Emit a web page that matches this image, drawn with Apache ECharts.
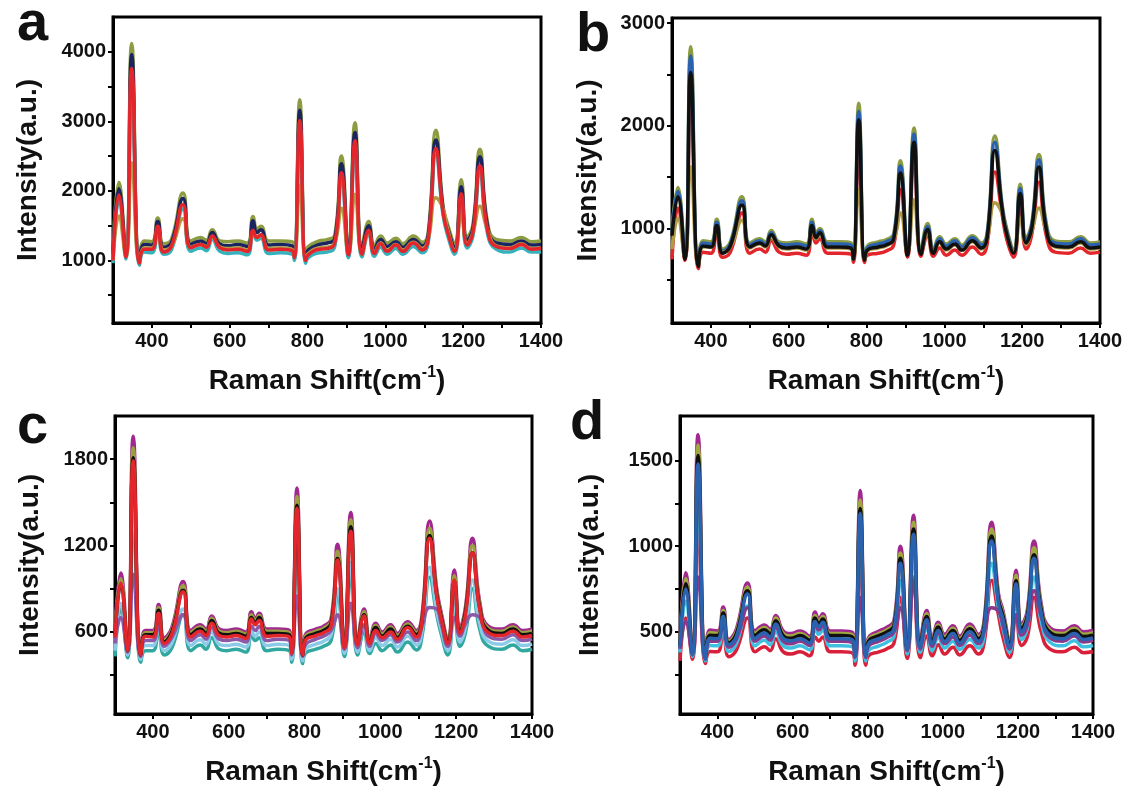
<!DOCTYPE html>
<html>
<head>
<meta charset="utf-8">
<script src="https://cdn.jsdelivr.net/npm/echarts@6/dist/echarts.min.js"></script>
<style>
html,body{margin:0;padding:0;background:#fff;}
#chart{width:1127px;height:787px;}
</style>
</head>
<body>
<div id="chart"></div>
<script>
// Raman shift grid (cm-1)
const X = [300,315,333,348,368,380,400,415,430,450,480,500,525,540,555,575,595,620,645,660,670,680,700,730,760,766,780,795,802,830,850,870,887,905,922,940,957,972,988,1005,1027,1045,1072,1095,1110,1130,1148,1160,1178,1195,1210,1225,1243,1262,1285,1320,1350,1375,1400];

const X_LABELS = [400,600,800,1000,1200,1400];
const X_TICKS = [400,500,600,700,800,900,1000,1100,1200,1300,1400];

// Panel a
const A_top   = [1150,2120,1100,4120,1050,1280,1270,1610,1240,1300,1970,1280,1330,1290,1440,1280,1270,1280,1250,1630,1450,1490,1280,1280,1270,1150,3310,1100,1200,1280,1300,1360,2500,1180,2980,1200,1560,1210,1350,1250,1320,1240,1350,1260,1400,2870,1790,1520,1240,2160,1340,1510,2600,1560,1300,1280,1330,1270,1280];
const A_black = [1090,2030,1070,3960,1010,1230,1220,1560,1190,1250,1890,1230,1280,1240,1400,1230,1210,1230,1200,1570,1400,1440,1220,1230,1210,1100,3160,1050,1150,1230,1250,1310,2390,1130,2840,1150,1500,1160,1300,1200,1270,1190,1300,1210,1350,2730,1750,1470,1190,2060,1290,1460,2490,1510,1250,1230,1280,1220,1230];
const A_cyan  = [960,1860,1020,3620,930,1120,1110,1440,1090,1150,1740,1130,1180,1140,1300,1130,1100,1110,1080,1390,1290,1320,1100,1110,1090,1000,2920,960,1040,1110,1120,1200,2160,1040,2610,1050,1380,1060,1190,1090,1170,1090,1200,1110,1250,2510,1660,1360,1090,1860,1180,1350,2260,1400,1160,1120,1180,1120,1120];
const A_red   = [1000,1940,1050,3760,960,1160,1160,1490,1120,1200,1800,1180,1230,1190,1350,1180,1150,1160,1130,1430,1330,1370,1150,1160,1140,1040,3010,1000,1080,1160,1170,1250,2260,1080,2720,1090,1430,1100,1240,1130,1220,1130,1250,1150,1300,2610,1700,1410,1130,1960,1220,1400,2360,1450,1200,1170,1230,1160,1170];
const A_low   = [1000,1640,1060,2400,990,1180,1180,1450,1150,1200,1600,1190,1230,1200,1330,1190,1170,1180,1150,1400,1330,1360,1170,1180,1160,1060,2080,1020,1100,1180,1190,1260,1750,1100,1950,1110,1400,1120,1250,1150,1230,1150,1260,1170,1300,1900,1750,1450,1150,1650,1240,1400,1780,1450,1210,1180,1240,1170,1180];

// Panel b
const B_top   = [1000,1400,720,2770,650,880,870,1090,800,870,1310,860,900,870,980,870,860,870,850,1090,960,1000,870,870,860,730,2220,720,830,870,890,950,1660,780,1980,790,1050,800,920,850,900,840,930,860,960,1900,1250,1000,800,1430,910,1060,1720,1050,880,870,920,860,870];
const B_blue  = [970,1360,710,2680,640,860,850,1060,780,850,1270,840,880,850,960,850,840,850,830,1060,940,980,850,850,840,715,2140,705,810,850,870,930,1610,760,1920,770,1020,780,900,830,880,820,910,840,940,1840,1220,980,780,1390,890,1040,1670,1020,860,850,900,840,850];
const B_black = [930,1310,700,2520,630,830,820,1030,760,830,1230,820,860,830,940,830,810,820,800,1030,910,960,820,820,810,700,2060,690,790,820,840,900,1540,740,1840,750,990,760,870,800,850,790,880,810,910,1760,1200,950,760,1340,860,1010,1600,990,830,820,870,810,820];
const B_red   = [700,1200,690,2350,610,770,760,970,720,770,1150,760,800,770,880,770,750,760,740,970,860,900,760,760,750,670,1750,670,740,760,780,840,1380,720,1700,730,930,730,810,740,790,740,820,750,850,1550,1150,900,720,1230,800,950,1450,930,770,760,810,760,770];
const B_low   = [800,1100,720,1600,640,820,820,1000,770,820,1080,810,850,820,920,820,800,810,790,990,900,940,810,810,800,700,1380,690,780,810,830,890,1150,760,1280,770,960,770,860,790,840,790,870,800,900,1250,1150,950,770,1100,850,980,1200,980,820,810,860,800,810];

// Panel c
const C_top   = [620,1010,490,1960,460,610,610,790,560,630,950,610,650,620,710,620,610,620,600,740,690,730,620,620,610,480,1600,460,580,620,640,690,1210,520,1430,540,760,550,660,600,650,590,670,610,720,1370,910,740,550,1030,630,780,1250,810,640,620,650,610,620];
const C_olive = [600,970,480,1880,450,595,595,770,545,615,920,595,635,605,695,605,595,605,585,720,675,715,605,605,595,470,1540,450,565,605,625,675,1160,510,1380,530,740,540,645,585,635,575,655,595,705,1320,890,725,540,990,615,765,1200,790,625,605,635,595,605];
const C_black = [580,930,470,1810,440,580,580,750,530,600,890,580,620,590,680,590,580,590,570,700,660,700,590,590,580,460,1480,440,550,590,610,660,1110,500,1330,520,720,530,630,570,620,560,640,580,690,1270,870,710,530,950,600,750,1150,770,610,590,620,580,590];
const C_low   = [520,700,460,1000,430,540,540,650,500,560,720,540,580,550,630,550,540,550,530,640,610,640,540,550,540,440,850,430,510,550,570,610,720,480,800,490,650,500,590,540,580,530,600,540,640,770,760,660,500,700,570,660,720,700,570,550,580,540,550];
const C_lblue = [470,800,440,1500,410,505,505,640,470,525,760,505,545,515,600,515,505,515,495,610,570,600,505,515,505,410,1200,400,480,515,535,580,900,450,1080,460,640,470,560,505,550,495,570,510,610,1050,760,620,470,800,530,640,960,660,535,515,545,505,515];
const C_teal  = [430,760,420,1400,390,470,470,600,440,490,720,470,510,480,560,480,470,480,460,580,540,560,470,480,470,390,1120,380,450,480,500,540,850,430,1000,440,600,450,520,470,510,460,530,475,570,980,730,590,440,760,500,600,900,620,500,480,510,470,480];
const C_red   = [560,940,470,1790,440,570,565,730,520,585,880,565,605,575,660,575,565,575,555,690,650,680,570,575,565,450,1460,440,540,575,595,640,1100,490,1300,510,710,520,610,560,600,550,630,565,680,1250,860,700,520,960,590,730,1150,760,595,575,605,565,575];

// Panel d
const D_top   = [440,845,390,1650,360,510,505,645,455,515,785,505,540,515,595,505,490,505,475,615,575,605,505,505,495,385,1325,385,465,505,525,565,1000,425,1180,445,625,465,555,485,535,475,545,485,565,1140,725,625,445,860,545,625,1030,665,525,505,535,500,510];
const D_olive = [430,810,380,1590,355,495,490,625,445,500,760,490,525,500,580,490,475,490,460,595,560,590,490,490,480,375,1270,375,455,490,510,550,960,415,1140,435,605,455,540,470,520,460,530,470,550,1100,705,610,435,830,530,610,990,645,510,490,520,485,495];
const D_black = [420,780,375,1530,350,480,478,610,435,488,740,478,512,488,565,478,462,478,450,580,545,575,478,478,468,368,1220,368,445,478,498,538,930,405,1100,425,590,445,528,458,508,450,518,460,538,1060,690,595,425,800,518,595,950,630,498,478,508,472,482];
const D_low   = [400,560,370,820,340,445,445,560,410,455,640,445,475,450,525,445,430,445,420,540,510,535,445,445,435,350,700,350,415,445,465,500,640,390,800,400,540,415,490,430,470,420,480,430,500,640,620,540,400,600,480,540,740,590,465,445,475,440,450];
const D_cyan  = [380,680,355,1250,330,420,418,545,385,428,650,418,450,425,500,418,405,418,395,515,485,510,418,418,410,330,1050,330,390,418,438,475,800,370,950,380,520,390,465,405,445,398,455,405,475,900,640,520,380,680,455,520,820,560,440,418,448,412,420];
const D_red   = [330,580,340,1100,315,385,383,500,355,393,580,383,413,390,460,383,370,383,360,470,445,470,383,383,375,305,900,305,360,383,400,435,700,345,820,350,475,360,425,370,410,365,418,370,435,800,600,470,350,600,420,470,700,500,400,383,410,378,385];
const D_blue  = [410,750,365,1480,340,462,460,590,425,470,720,460,493,470,545,460,447,460,435,560,527,555,460,460,452,355,1190,355,430,460,480,518,900,395,1070,410,570,430,508,443,490,435,500,445,520,1030,670,575,410,780,500,575,930,610,480,460,490,455,465];

// Y axis ticks / labels per panel
const A_YLABELS = [1000,2000,3000,4000];
const A_YTICKS  = [500,1000,1500,2000,2500,3000,3500,4000];
const B_YLABELS = [1000,2000,3000];
const B_YTICKS  = [500,1000,1500,2000,2500,3000];
const C_YLABELS = [600,1200,1800];
const C_YTICKS  = [300,600,900,1200,1500,1800];
const D_YLABELS = [500,1000,1500];
const D_YTICKS  = [250,500,750,1000,1250,1500];

const FONT = '"Liberation Sans", Arial, Helvetica, sans-serif';

const panels = [
  {letter:'a', grid:{left:113, top:17, width:428, height:306}, ymin:100, ymax:4500, yl:A_YLABELS, yt:A_YTICKS, nameGap:71, lx:17, ly:25,
   series:[[A_top,'#8c9c40'],[A_black,'#1a2560'],[A_cyan,'#36b2bc'],[A_low,'#b09a45'],[A_red,'#e3262b']]},
  {letter:'b', grid:{left:672, top:18, width:428, height:305}, ymin:80, ymax:3050, yl:B_YLABELS, yt:B_YTICKS, nameGap:70, lx:576, ly:36,
   series:[[B_red,'#e3262b'],[B_top,'#8c9c40'],[B_blue,'#2a62b0'],[B_low,'#b09a45'],[B_black,'#101010']]},
  {letter:'c', grid:{left:115, top:416, width:417, height:304}, ymin:30, ymax:2100, yl:C_YLABELS, yt:C_YTICKS, nameGap:71, lx:17, ly:428,
   series:[[C_teal,'#30a8a0'],[C_lblue,'#8ccbe8'],[C_low,'#8a5aa8'],[C_top,'#a0288e'],[C_olive,'#9aa040'],[C_black,'#101010'],[C_red,'#e3262b']]},
  {letter:'d', grid:{left:680, top:416, width:413, height:304}, ymin:20, ymax:1760, yl:D_YLABELS, yt:D_YTICKS, nameGap:76, lx:570, ly:424,
   series:[[D_red,'#d8203a'],[D_cyan,'#40c0e0'],[D_low,'#8a3a8a'],[D_top,'#a0288e'],[D_olive,'#a0a840'],[D_black,'#101010'],[D_blue,'#2a62b0']]}
];

const plain = v => String(v);
const grids = [], xAxes = [], yAxes = [], series = [], graphic = [];
panels.forEach((p, i) => {
  grids.push(Object.assign({show:true, borderColor:'#000', borderWidth:3, backgroundColor:'transparent'}, p.grid));
  xAxes.push({
    type:'value', gridIndex:i, min:300, max:1400,
    axisLine:{show:true, onZero:false, lineStyle:{color:'#000', width:3}},
    axisTick:{show:true, length:5, lineStyle:{color:'#000', width:2}, customValues:X_TICKS},
    axisLabel:{customValues:X_LABELS, formatter:plain, fontSize:20, fontWeight:'bold', color:'#111', fontFamily:FONT, margin:8},
    splitLine:{show:false},
    name:'{n|Raman Shift(cm}{s|-1}{n|)}', nameLocation:'middle', nameGap:42,
    nameTextStyle:{rich:{
      n:{fontSize:28, fontWeight:'bold', fontFamily:FONT, color:'#111', lineHeight:32},
      s:{fontSize:16, fontWeight:'bold', fontFamily:FONT, color:'#111', lineHeight:16, verticalAlign:'top'}
    }}
  });
  yAxes.push({
    type:'value', gridIndex:i, min:p.ymin, max:p.ymax,
    axisLine:{show:true, onZero:false, lineStyle:{color:'#000', width:3}},
    axisTick:{show:true, length:5, lineStyle:{color:'#000', width:2}, customValues:p.yt},
    axisLabel:{customValues:p.yl, formatter:plain, fontSize:20, fontWeight:'bold', color:'#111', fontFamily:FONT, margin:7},
    splitLine:{show:false},
    name:'Intensity(a.u.)', nameLocation:'middle', nameGap:p.nameGap,
    nameTextStyle:{fontSize:28, fontWeight:'bold', fontFamily:FONT, color:'#111'}
  });
  p.series.forEach(([arr, color]) => {
    series.push({
      type:'line', xAxisIndex:i, yAxisIndex:i,
      data: X.map((x, k) => [x, arr[k]]),
      showSymbol:false, smooth:0.5, clip:true,
      lineStyle:{color:color, width:3.5},
      itemStyle:{color:color},
      emphasis:{disabled:true}
    });
  });
  graphic.push({type:'text', x:p.lx, y:p.ly, style:{text:p.letter, font:'bold 56px ' + FONT, fill:'#111', verticalAlign:'middle', align:'left'}});
});

const chart = echarts.init(document.getElementById('chart'), null, {renderer:'canvas'});
chart.setOption({
  animation:false,
  backgroundColor:'#fff',
  grid:grids, xAxis:xAxes, yAxis:yAxes, series:series, graphic:graphic
});
</script>
</body>
</html>
